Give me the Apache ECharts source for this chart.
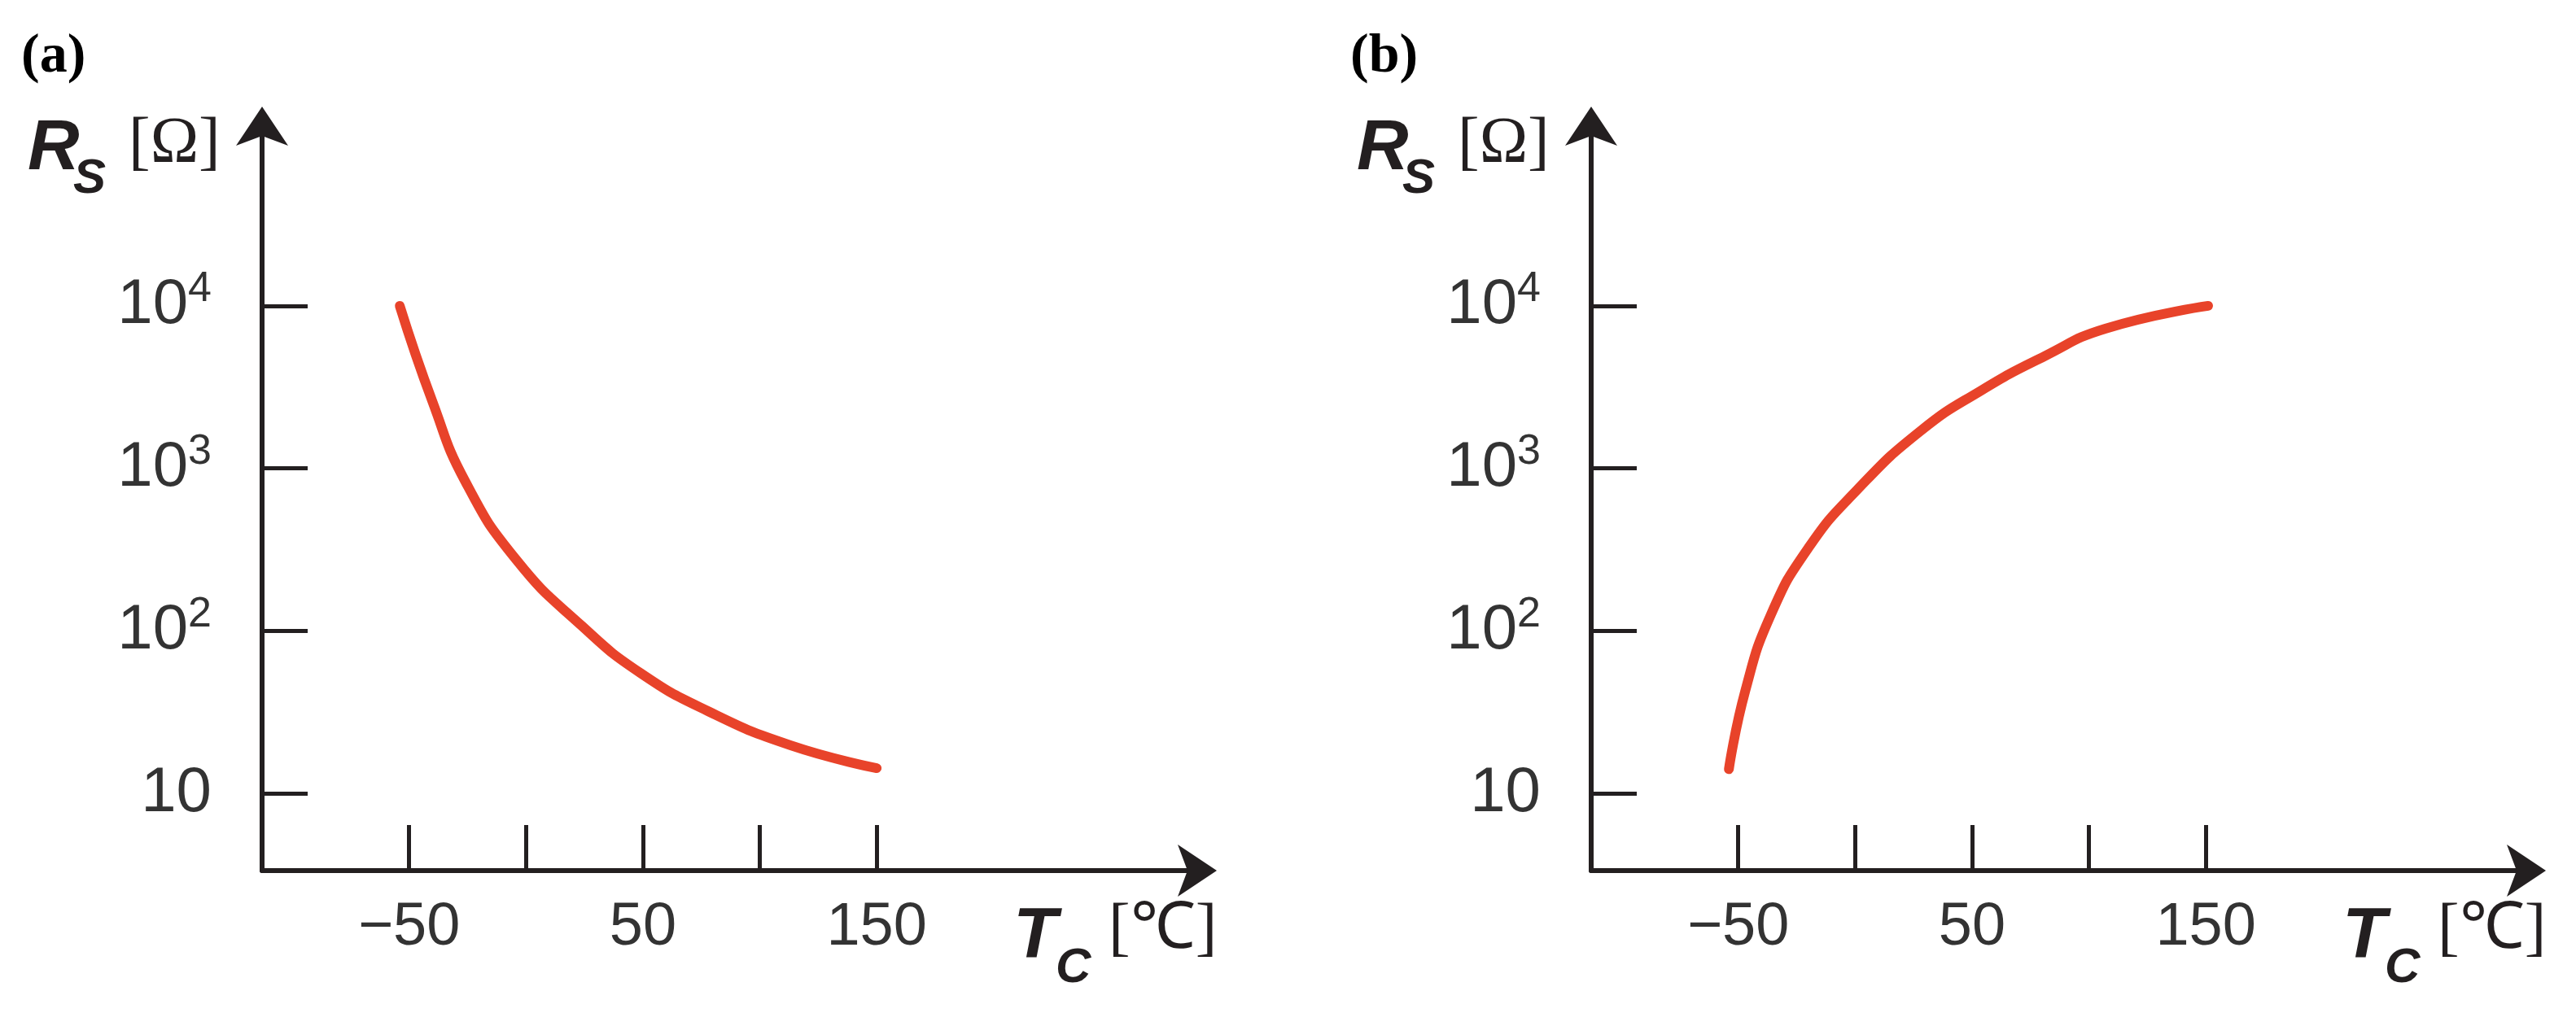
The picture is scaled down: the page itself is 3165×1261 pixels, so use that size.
<!DOCTYPE html>
<html><head><meta charset="utf-8">
<script src="https://cdn.jsdelivr.net/npm/echarts@6/dist/echarts.min.js"></script>
<style>html,body{margin:0;padding:0;background:#fff}#c{width:3165px;height:1261px}</style>
</head><body><div id="c"></div>
<script>
const tempA = [-54, -40, -26, -4, 24, 49, 78, 113, 150];
const resA = [10000, 2570, 832, 272, 107, 55, 32, 19.8, 14.3];
const tempB = [-54, -47, -36, -20, 1, 28, 54, 81, 107, 151];
const resB = [14.1, 42.7, 126, 324, 741, 1700, 3020, 4900, 7240, 10000];
const xTicks = [-50, 0, 50, 100, 150];
const xLabels = [-50, 50, 150];
const yTicks = [10, 100, 1000, 10000];

const chart = echarts.init(document.getElementById('c'));
const lefts = [322, 1955];
const W = 1163;
function xa(i){return {type:'value',gridIndex:i,min:-112.9,max:292,
  axisLine:{onZero:false,lineStyle:{color:'#231f20',width:6},symbol:['none','arrow'],symbolSize:[48,48],symbolOffset:[0,10]},
  axisTick:{inside:true,length:56,lineStyle:{color:'#231f20',width:5},customValues:xTicks},
  axisLabel:{customValues:xLabels,margin:34,fontFamily:'Liberation Sans',fontSize:74,color:'#333',
    formatter:v=>v<0?'\u2212'+(-v):String(v)},
  splitLine:{show:false}};}
function ya(i){return {type:'log',logBase:10,gridIndex:i,min:3.35,max:150000,
  axisLine:{onZero:false,lineStyle:{color:'#231f20',width:6},symbol:['none','arrow'],symbolSize:[48,48],symbolOffset:[0,10]},
  axisTick:{inside:true,length:56,lineStyle:{color:'#231f20',width:5},customValues:yTicks},
  axisLabel:{customValues:yTicks,margin:62,fontFamily:'Liberation Sans',fontSize:78,color:'#333',
    formatter:v=>{const e=Math.round(Math.log10(v));return e===1?'10':'10{s|'+e+'}';},
    rich:{s:{fontFamily:'Liberation Sans',fontSize:52,color:'#333',verticalAlign:'top',padding:[0,0,40,0]}}},
  splitLine:{show:false}};}
function texts(off,tag){return [
  {type:'text',left:26+off,top:36,style:{text:tag,font:'bold 68px "Liberation Serif"',fill:'#000'}},
  {type:'text',left:34+off,top:140,style:{text:'R',font:'italic bold 88px "Liberation Sans"',fill:'#231f20'}},
  {type:'text',left:90+off,top:190,style:{text:'S',font:'italic bold 60px "Liberation Sans"',fill:'#231f20'}},
  {type:'text',left:158+off,top:138,style:{text:'[\u03a9]',font:'80px "Liberation Serif"',fill:'#231f20'}},
  {type:'text',left:1245+off,top:1108,style:{text:'T',font:'italic bold 88px "Liberation Sans"',fill:'#231f20'}},
  {type:'text',left:1297+off,top:1160,style:{text:'C',font:'italic bold 60px "Liberation Sans"',fill:'#231f20'}},
  {type:'text',left:1362+off,top:1104,style:{text:'[\u2103]',font:'80px "Liberation Serif"',fill:'#231f20'}}
];}
const line = (i,xs,ys)=>({type:'line',xAxisIndex:i,yAxisIndex:i,smooth:0.5,showSymbol:false,
  data:xs.map((x,k)=>[x,ys[k]]),lineStyle:{color:'#e8432a',width:12,cap:'round'}});
chart.setOption({
  animation:false,
  grid:lefts.map(l=>({left:l,width:W,top:141,height:929})),
  xAxis:[xa(0),xa(1)],
  yAxis:[ya(0),ya(1)],
  series:[line(0,tempA,resA),line(1,tempB,resB)],
  graphic:[...texts(0,'(a)'),...texts(1633,'(b)')]
});
</script></body></html>
